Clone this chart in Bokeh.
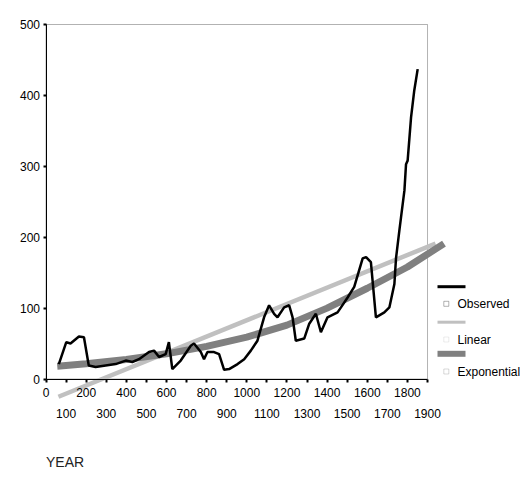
from bokeh.plotting import figure
from bokeh.models import Range1d, LinearAxis, FixedTicker, BoxAnnotation, Label
from bokeh.embed import file_html
from bokeh.resources import INLINE

# ---------------- data ----------------
obs_year = [64, 101, 122, 164, 189, 213, 247, 297, 347, 397, 430, 463, 513, 538, 563,
            596, 612, 629, 671, 721, 737, 771, 787, 804, 837, 862, 887, 912, 954, 987,
            1020, 1053, 1086, 1111, 1136, 1153, 1186, 1211, 1228, 1244, 1286, 1311,
            1344, 1369, 1402, 1452, 1469, 1502, 1535, 1577, 1594, 1618, 1643, 1685,
            1710, 1735, 1743, 1760, 1768, 1785, 1793, 1801, 1818, 1834, 1851]
obs_value = [21, 52, 50, 60, 59, 19, 17, 19, 21, 26, 24, 28, 38, 40, 31,
             35, 52, 14, 26, 47, 50, 38, 28, 38, 38, 35, 13, 14, 21, 28,
             40, 54, 87, 104, 92, 87, 101, 104, 87, 54, 57, 78,
             92, 66, 87, 94, 101, 115, 130, 170, 172, 165, 87, 94,
             101, 134, 170, 210, 228, 266, 303, 308, 369, 407, 437]

lin_year = [62, 1940]
lin_value = [-25, 191]

exp_year = [56, 200, 400, 600, 800, 1000, 1200, 1400, 1600, 1800, 1982]
exp_value = [18, 21.5, 27.5, 35.5, 46, 59, 76, 100, 128, 158, 191]

x_ticks_row1 = [0, 200, 400, 600, 800, 1000, 1200, 1400, 1600, 1800]
x_ticks_row2 = [100, 300, 500, 700, 900, 1100, 1300, 1500, 1700, 1900]
y_ticks = [0, 100, 200, 300, 400, 500]
series_names = ["Observed", "Linear", "Exponential"]
series_colors = ["black", "#c0c0c0", "#808080"]

# ---------------- geometry ----------------
W, H = 521, 470
PX_PER_YEAR = 0.2008
PX_PER_UNIT = 0.709
X0_PX, Y0_PX = 45.5, 378.5   # pixel position of (0, 0)
X_LO = -X0_PX / PX_PER_YEAR
X_HI = (W - X0_PX) / PX_PER_YEAR
Y_HI = Y0_PX / PX_PER_UNIT
Y_LO = -(H - Y0_PX) / PX_PER_UNIT


def dx(px):
    return X_LO + px / W * (X_HI - X_LO)


def dy(py):
    return Y_HI - py / H * (Y_HI - Y_LO)


FONT = "Liberation Sans"

p = figure(width=W, height=H, x_range=Range1d(X_LO, X_HI), y_range=Range1d(Y_LO, Y_HI),
           x_axis_type=None, y_axis_type=None, min_border=0,
           toolbar_location=None, output_backend="svg", outline_line_color=None)
p.background_fill_color = "white"
p.border_fill_color = "white"

# frame box
p.add_layout(BoxAnnotation(left=0, right=1900, bottom=0, top=500, fill_color=None,
                           line_color="black", line_width=1, level="underlay"))

# series
p.line(lin_year, lin_value, line_color=series_colors[1], line_width=4.5)
p.line(exp_year, exp_value, line_color=series_colors[2], line_width=7)
p.line(obs_year, obs_value, line_color=series_colors[0], line_width=2.5)

# axes
def style(ax):
    ax.major_label_text_font = FONT
    ax.major_label_text_font_size = "12px"
    ax.major_label_text_color = "black"
    ax.minor_tick_line_color = None
    ax.major_tick_in = 0
    ax.major_tick_out = 3
    ax.major_tick_line_width = 2
    ax.major_tick_line_color = "black"
    ax.axis_line_color = "black"

xa1 = LinearAxis(ticker=FixedTicker(ticks=x_ticks_row1), fixed_location=0, bounds=(0, 1900))
style(xa1)
xa1.major_label_standoff = 6
p.add_layout(xa1, "below")

xa2 = LinearAxis(ticker=FixedTicker(ticks=x_ticks_row2), fixed_location=0, bounds=(0, 1900))
style(xa2)
xa2.axis_line_color = None
xa2.major_label_standoff = 27
p.add_layout(xa2, "below")

ya = LinearAxis(ticker=FixedTicker(ticks=y_ticks), fixed_location=0, bounds=(0, 500))
style(ya)
ya.major_label_standoff = 3
p.add_layout(ya, "left")

# axis title
p.add_layout(Label(x=dx(45.5), y=dy(453), text="YEAR", text_baseline="top",
                   text_align="left", text_font=FONT, text_font_size="14px",
                   text_color="#222222"))

# legend (manual, SPSS style)
sw_top = [284.7, 320.2, 350.3]
sw_h = [3, 3, 6]
sq_cy = [303.3, 339.0, 371.0]
for name, col, t, h, cy in zip(series_names, series_colors, sw_top, sw_h, sq_cy):
    p.add_layout(BoxAnnotation(left=dx(437), right=dx(465), top=dy(t), bottom=dy(t + h),
                               fill_color=col, fill_alpha=1, line_color=None))
    p.add_layout(BoxAnnotation(left=dx(443.3), right=dx(448.3), top=dy(cy - 2.5),
                               bottom=dy(cy + 2.5), fill_color=None,
                               line_color=col, line_width=1))
    p.add_layout(Label(x=dx(457), y=dy(cy), text=name, text_baseline="middle",
                       text_align="left", text_font=FONT, text_font_size="12px",
                       text_color="black"))

open("out.html", "w").write(file_html(p, INLINE))
